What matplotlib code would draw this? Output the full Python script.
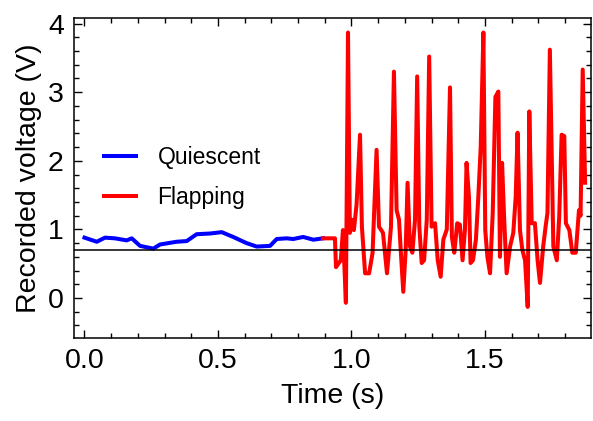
import numpy as np
import matplotlib
matplotlib.use('Agg')
import matplotlib.pyplot as plt
from matplotlib.ticker import MultipleLocator

plt.rcParams['font.family'] = ['Liberation Sans', 'DejaVu Sans']

# quiescent signal (blue)
t_quiet = [0.0, 0.046, 0.077, 0.114, 0.158, 0.177, 0.208, 0.258, 0.283, 0.345,
           0.383, 0.420, 0.470, 0.514, 0.557, 0.607, 0.645, 0.695, 0.720, 0.757,
           0.782, 0.819, 0.857, 0.894]
v_quiet = [0.88, 0.82, 0.88, 0.87, 0.84, 0.87, 0.76, 0.72, 0.78, 0.82,
           0.83, 0.93, 0.94, 0.96, 0.89, 0.80, 0.75, 0.76, 0.86, 0.87,
           0.86, 0.89, 0.85, 0.87]

# flapping signal (red)
t_flap = [0.893, 0.938, 0.942, 0.960, 0.968, 0.979, 0.987, 0.994, 1.002, 1.009,
          1.019, 1.032, 1.039, 1.051, 1.066, 1.079, 1.094, 1.103, 1.118, 1.133,
          1.148, 1.159, 1.169, 1.178, 1.185, 1.194, 1.203, 1.210, 1.219, 1.228,
          1.238, 1.246, 1.254, 1.263, 1.272, 1.282, 1.291, 1.300, 1.313, 1.323,
          1.334, 1.344, 1.357, 1.369, 1.376, 1.385, 1.396, 1.406, 1.416, 1.425,
          1.431, 1.440, 1.446, 1.455, 1.466, 1.475, 1.484, 1.494, 1.501, 1.509,
          1.519, 1.529, 1.539, 1.550, 1.556, 1.564, 1.572, 1.581, 1.594, 1.606,
          1.615, 1.622, 1.631, 1.640, 1.650, 1.660, 1.666, 1.675, 1.687, 1.697,
          1.706, 1.718, 1.727, 1.734, 1.743, 1.756, 1.769, 1.778, 1.787, 1.797,
          1.803, 1.816, 1.827, 1.840, 1.852, 1.858, 1.866, 1.875]
v_flap = [0.87, 0.87, 0.45, 0.55, 0.99, -0.07, 3.87, 0.95, 1.14, 0.99,
          1.36, 2.38, 1.04, 0.36, 0.36, 0.66, 2.16, 1.04, 0.95, 0.36,
          1.04, 3.30, 1.28, 1.14, 0.66, 0.09, 0.70, 1.68, 0.75, 0.66,
          1.14, 3.23, 1.04, 0.51, 0.55, 1.14, 3.52, 1.04, 1.09, 0.55,
          0.31, 0.85, 1.00, 3.07, 0.89, 0.66, 1.09, 1.07, 0.55, 1.00,
          1.97, 1.47, 0.51, 0.55, 0.85, 1.47, 2.20, 3.87, 0.99, 0.60,
          0.36, 1.24, 2.93, 3.01, 0.60, 1.97, 1.14, 0.36, 0.75, 0.95,
          1.47, 2.41, 0.99, 0.70, 0.55, -0.13, 2.72, 1.09, 1.09, 0.55,
          0.22, 0.75, 1.04, 1.24, 3.62, 0.75, 0.55, 1.18, 2.38, 2.36,
          1.09, 0.99, 0.66, 0.66, 1.28, 1.20, 3.33, 1.68]

threshold = 0.7

fig = plt.figure(figsize=(5.93, 4.21), dpi=100)
ax = fig.add_axes([0.124, 0.196, 0.8726, 0.761])

ax.plot(t_quiet, v_quiet, color='#0000ff', lw=2.9, label='Quiescent', zorder=3)
ax.plot(t_flap, v_flap, color='#ff0000', lw=2.9, label='Flapping', zorder=3)
ax.axhline(threshold, color='black', lw=1.1, zorder=4)

ax.set_xlim(-0.041, 1.897)
ax.set_ylim(-0.59, 4.08)
ax.xaxis.set_major_locator(MultipleLocator(0.5))
ax.xaxis.set_minor_locator(MultipleLocator(0.1))
ax.yaxis.set_major_locator(MultipleLocator(1))
ax.yaxis.set_minor_locator(MultipleLocator(0.2))
ax.tick_params(which='both', direction='in', top=True, right=True,
               labelsize=20.5, width=1.0)
ax.tick_params(which='major', length=6, pad=7)
ax.tick_params(which='minor', length=3.5)
for s in ax.spines.values():
    s.set_linewidth(1.1)

ax.set_xlabel('Time (s)', fontsize=20.5, labelpad=6)
ax.set_ylabel('Recorded voltage (V)', fontsize=20.5, labelpad=4)

ax.legend(loc='upper left', bbox_to_anchor=(0.058, 0.60), frameon=False,
          fontsize=16.5, handlelength=1.4, handletextpad=0.95,
          labelspacing=0.75, borderpad=0, borderaxespad=0)

fig.savefig('out.png', dpi=100)
